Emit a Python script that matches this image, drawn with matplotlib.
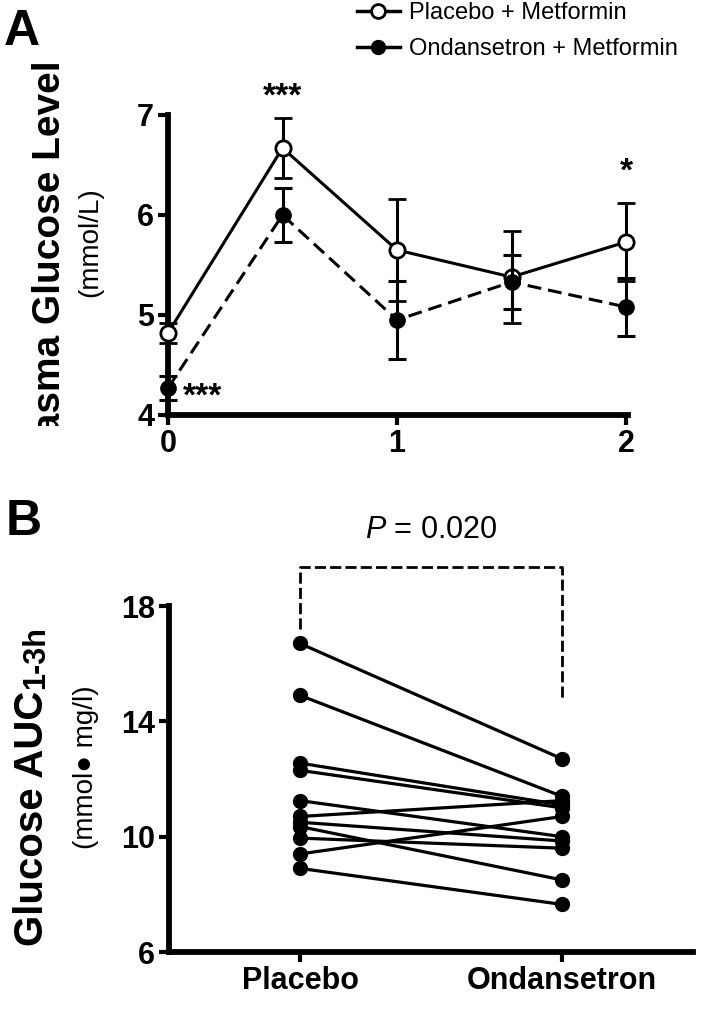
import matplotlib
matplotlib.use("Agg")
import matplotlib.pyplot as plt
from matplotlib.lines import Line2D
from matplotlib.transforms import Bbox, TransformedBbox

# Panel A: glucose time course
TIME_H = [0, 0.5, 1, 1.5, 2]
PLACEBO_MEAN = [4.82, 6.67, 5.65, 5.38, 5.73]
PLACEBO_ERR = [0.10, 0.30, 0.51, 0.46, 0.39]
ONDANSETRON_MEAN = [4.27, 6.00, 4.95, 5.33, 5.08]
ONDANSETRON_ERR = [0.12, 0.27, 0.39, 0.27, 0.29]
A_YTICKS = [4, 5, 6, 7]
A_XTICKS = [0, 1, 2]

# Panel B: paired AUC values (one line per subject)
B_GROUPS = ["Placebo", "Ondansetron"]
AUC_PLACEBO = [16.7, 14.9, 12.55, 12.3, 11.25, 10.7, 10.5, 10.35, 9.95, 9.4, 8.9]
AUC_ONDANSETRON = [12.7, 11.4, 11.1, 11.0, 10.0, 11.25, 9.85, 8.5, 9.6, 10.7, 7.65]
B_YTICKS = [6, 10, 14, 18]

plt.rcParams["font.family"] = ["Liberation Sans", "DejaVu Sans"]
plt.rcParams["mathtext.fontset"] = "custom"
plt.rcParams["mathtext.it"] = "Liberation Sans:italic"
plt.rcParams["mathtext.rm"] = "Liberation Sans"
plt.rcParams["lines.scale_dashes"] = False

W, H = 702, 1011
fig = plt.figure(figsize=(W / 100, H / 100), dpi=100)


def fx(px):
    return px / W


def fy(py):
    return 1 - py / H


def bold_ticks(ax):
    for lbl in ax.get_xticklabels() + ax.get_yticklabels():
        lbl.set_fontweight("bold")


# ---------------- Panel A ----------------
axA = fig.add_axes([fx(168), fy(415), fx(626 - 168), fy(115) - fy(415)])
axA.errorbar(TIME_H, PLACEBO_MEAN, yerr=PLACEBO_ERR, color="black", lw=2.2,
             marker="o", ms=11, mfc="white", mec="black", mew=2,
             capsize=6.5, capthick=2.2, elinewidth=2.2, zorder=3, clip_on=False)
ebO = axA.errorbar(TIME_H, ONDANSETRON_MEAN, yerr=ONDANSETRON_ERR, color="black",
                   lw=2.2, ls="--", marker="o", ms=11, mfc="black", mec="black",
                   capsize=6.5, capthick=2.2, elinewidth=2.2, zorder=4, clip_on=False)
ebO[0].set_dashes([10, 5])

axA.set_xlim(0, 2)
axA.set_ylim(4, 7)
axA.set_xticks(A_XTICKS)
axA.set_yticks(A_YTICKS)
for s in ["top", "right"]:
    axA.spines[s].set_visible(False)
for s in ["left", "bottom"]:
    axA.spines[s].set_linewidth(4.2)
axA.spines["bottom"].set_bounds(0, 2.01)
axA.tick_params(width=3, length=7, labelsize=22, pad=3)
bold_ticks(axA)

# significance stars (glyph centre placed at the given value)
star_kw = dict(textcoords="offset points", va="baseline", fontsize=24,
               fontweight="bold", annotation_clip=False)
axA.annotate("***", xy=(0.5, 7.28), xytext=(0, -13.5), ha="center", **star_kw)
axA.annotate("*", xy=(2, 6.53), xytext=(0, -13.5), ha="center", **star_kw)
axA.annotate("***", xy=(0.066, 4.28), xytext=(0, -13.5), ha="left", **star_kw)

handles = [
    Line2D([], [], color="black", lw=2.5, marker="o", ms=10, mfc="white", mew=2),
    Line2D([], [], color="black", lw=2.5, marker="o", ms=10, mfc="black"),
]
axA.legend(handles, ["Placebo + Metformin", "Ondansetron + Metformin"],
           loc="upper left", bbox_to_anchor=(fx(357), fy(2)),
           bbox_transform=fig.transFigure, frameon=False, fontsize=17,
           handlelength=1.8, handletextpad=0.4, labelspacing=0.6,
           borderpad=0, borderaxespad=0)

fig.text(fx(4), fy(32), "A", fontsize=36, fontweight="bold", va="center", ha="left")
ylabA = fig.text(fx(50), fy(60), "Plasma Glucose Level", rotation=90, ha="center",
                 va="top", fontsize=28, fontweight="bold")
ylabA.set_clip_box(TransformedBbox(Bbox([[0, fy(426)], [1, 1]]), fig.transFigure))
ylabA.set_clip_on(True)
fig.text(fx(90), fy(242), "(mmol/L)", rotation=90, ha="center", va="center",
         fontsize=20)

# ---------------- Panel B ----------------
axB = fig.add_axes([fx(169), fy(952), fx(693 - 169), fy(606) - fy(952)])
for p, o in zip(AUC_PLACEBO, AUC_ONDANSETRON):
    axB.plot([1, 2], [p, o], color="black", lw=2.3, marker="o", ms=10, zorder=3)

axB.set_xlim(0.5, 2.5)
axB.set_ylim(6, 18)
axB.set_xticks([1, 2])
axB.set_xticklabels(B_GROUPS)
axB.set_yticks(B_YTICKS)
for s in ["top", "right"]:
    axB.spines[s].set_visible(False)
for s in ["left", "bottom"]:
    axB.spines[s].set_linewidth(4.2)
axB.tick_params(width=3, length=7, labelsize=22, pad=3)
bold_ticks(axB)

# significance bracket
bracket = axB.plot([1, 1, 2, 2], [17.2, 19.35, 19.35, 14.75], color="black",
                   lw=2, clip_on=False)[0]
bracket.set_dashes([8, 3])
axB.text(1.5, 20.64, r"$\it{P}$ = 0.020", ha="center", va="center", fontsize=22)

fig.text(fx(6), fy(522), "B", fontsize=36, fontweight="bold", va="center", ha="left")
tB = fig.text(fx(32), fy(946), "Glucose AUC", rotation=90, ha="center",
              va="bottom", fontsize=29, fontweight="bold")
fig.canvas.draw()
bb = tB.get_window_extent().transformed(fig.transFigure.inverted())
fig.text(bb.x1, bb.y1 + 0.002, "1-3h", rotation=90, ha="right", va="bottom",
         fontsize=22, fontweight="bold")
fig.text(fx(86), fy(767), "(mmol\u25cf mg/l)", rotation=90, ha="center",
         va="center", fontsize=20)

fig.savefig("out.png", dpi=100)
